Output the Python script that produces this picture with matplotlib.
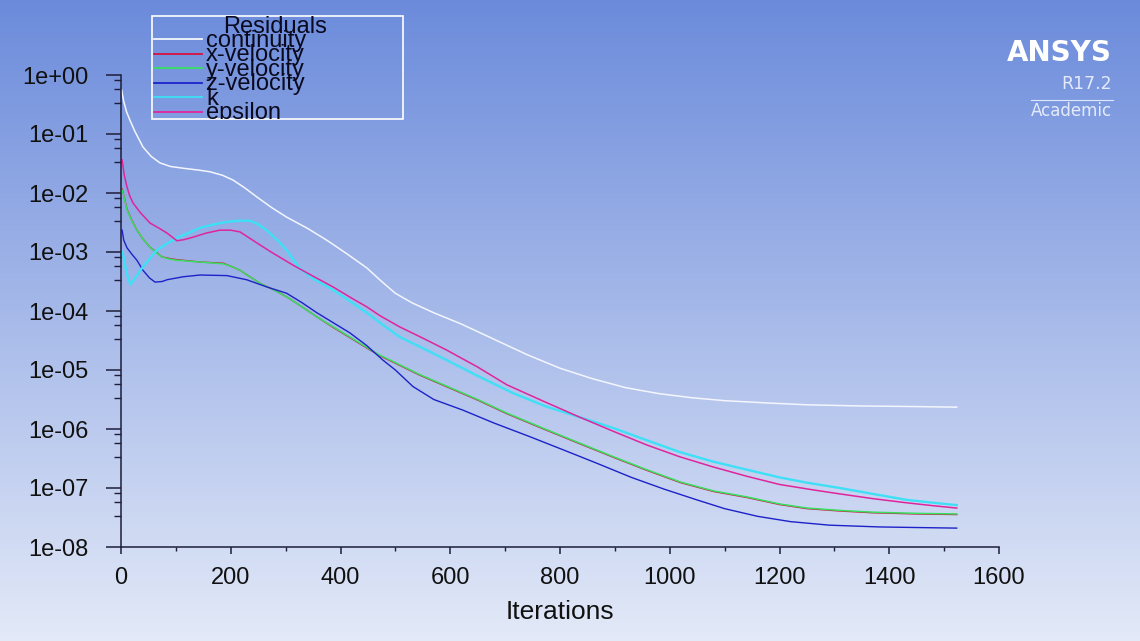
import numpy as np
import matplotlib
matplotlib.use("Agg")
from matplotlib import pyplot as plt
from matplotlib.patches import Rectangle
from matplotlib.ticker import LogLocator, NullFormatter

# residual histories (log10 of the residual)
series_names = ["continuity", "x-velocity", "y-velocity", "z-velocity", "k", "epsilon"]
series_colors = ["#f4f6ff", "#d8123e", "#36e060", "#1c22c8", "#3ee0f6", "#e0259c"]
series_widths = [1.1, 1.0, 1.1, 1.0, 1.7, 1.1]

continuity_it = [1, 5, 10, 16, 25, 40, 55, 71, 90, 113, 140, 162, 185, 204, 225, 248, 275,
                 302, 340, 375, 410, 448, 475, 500, 530, 570, 620, 680, 740, 800, 860, 920,
                 980, 1040, 1100, 1180, 1250, 1350, 1450, 1523]
continuity_exp = [-0.25, -0.45, -0.62, -0.76, -0.95, -1.22, -1.38, -1.49, -1.55, -1.58, -1.61,
                  -1.64, -1.70, -1.78, -1.91, -2.07, -2.25, -2.41, -2.60, -2.80, -3.02, -3.27,
                  -3.50, -3.70, -3.86, -4.03, -4.22, -4.48, -4.74, -4.97, -5.15, -5.30, -5.40,
                  -5.47, -5.52, -5.56, -5.59, -5.61, -5.62, -5.63]

yvel_it = [2, 5, 11, 20, 29, 40, 53, 64, 74, 88, 102, 144, 186, 200, 217, 235, 253, 280, 302,
           330, 357, 387, 417, 450, 472, 490, 545, 600, 650, 703, 770, 836, 900, 958, 1020,
           1080, 1140, 1200, 1250, 1310, 1370, 1450, 1523]
yvel_exp = [-1.95, -2.05, -2.29, -2.48, -2.63, -2.78, -2.92, -3.01, -3.08, -3.12, -3.14, -3.17,
            -3.20, -3.24, -3.31, -3.42, -3.53, -3.65, -3.76, -3.93, -4.10, -4.27, -4.44, -4.63,
            -4.75, -4.83, -5.08, -5.30, -5.50, -5.73, -5.99, -6.24, -6.48, -6.69, -6.90, -7.05,
            -7.15, -7.27, -7.34, -7.38, -7.41, -7.43, -7.44]
xvel_exp = [-1.93, -2.04, -2.28, -2.47, -2.63, -2.78, -2.92, -3.00, -3.08, -3.11, -3.13, -3.17,
            -3.19, -3.24, -3.31, -3.42, -3.53, -3.65, -3.76, -3.93, -4.10, -4.28, -4.45, -4.64,
            -4.76, -4.84, -5.09, -5.31, -5.51, -5.74, -6.00, -6.25, -6.49, -6.70, -6.91, -7.06,
            -7.16, -7.28, -7.35, -7.39, -7.42, -7.44, -7.45]

zvel_it = [2, 5, 11, 20, 29, 40, 52, 62, 75, 84, 113, 144, 193, 229, 265, 302, 330, 357, 387,
           417, 447, 477, 500, 532, 570, 623, 680, 745, 805, 867, 930, 990, 1049, 1100, 1160,
           1220, 1291, 1382, 1450, 1523]
zvel_exp = [-2.63, -2.80, -2.93, -3.04, -3.14, -3.31, -3.44, -3.51, -3.50, -3.47, -3.42, -3.39,
            -3.40, -3.47, -3.59, -3.70, -3.86, -4.03, -4.20, -4.37, -4.58, -4.83, -5.00, -5.28,
            -5.50, -5.68, -5.90, -6.13, -6.35, -6.58, -6.82, -7.02, -7.20, -7.35, -7.48, -7.57,
            -7.63, -7.66, -7.67, -7.68]

k_it = [2, 5, 10, 17, 25, 40, 65, 85, 102, 125, 144, 170, 193, 215, 235, 250, 265, 285, 302,
        326, 350, 386, 420, 448, 472, 508, 550, 593, 650, 714, 775, 836, 896, 958, 1018, 1078,
        1127, 1200, 1250, 1310, 1370, 1431, 1480, 1523]
k_exp = [-3.00, -3.10, -3.35, -3.55, -3.45, -3.25, -2.97, -2.85, -2.76, -2.67, -2.59, -2.53,
         -2.49, -2.47, -2.47, -2.53, -2.63, -2.80, -2.97, -3.28, -3.45, -3.64, -3.85, -4.03,
         -4.20, -4.44, -4.63, -4.83, -5.10, -5.39, -5.62, -5.80, -5.98, -6.19, -6.39, -6.55,
         -6.66, -6.82, -6.91, -7.00, -7.10, -7.20, -7.25, -7.29]

eps_it = [2, 6, 11, 16, 22, 35, 53, 70, 84, 102, 115, 131, 155, 180, 200, 217, 240, 260, 277,
          313, 350, 386, 420, 448, 472, 508, 550, 593, 650, 703, 770, 836, 900, 958, 1018, 1078,
          1140, 1200, 1260, 1310, 1370, 1431, 1480, 1523]
eps_exp = [-1.44, -1.70, -1.90, -2.05, -2.17, -2.33, -2.51, -2.60, -2.68, -2.81, -2.79, -2.75,
           -2.68, -2.63, -2.63, -2.66, -2.80, -2.92, -3.02, -3.22, -3.41, -3.59, -3.78, -3.93,
           -4.08, -4.27, -4.46, -4.66, -4.95, -5.25, -5.53, -5.80, -6.05, -6.27, -6.47, -6.64,
           -6.80, -6.94, -7.03, -7.10, -7.18, -7.25, -7.30, -7.34]

xtick_vals = [0, 200, 400, 600, 800, 1000, 1200, 1400, 1600]
ytick_vals = [1e-8, 1e-7, 1e-6, 1e-5, 1e-4, 1e-3, 1e-2, 1e-1, 1e0]
ytick_labels = ["1e-08", "1e-07", "1e-06", "1e-05", "1e-04", "1e-03", "1e-02", "1e-01", "1e+00"]

W, H = 1140, 641
fig = plt.figure(figsize=(W / 100, H / 100), dpi=100)

# background gradient
bg = fig.add_axes([0, 0, 1, 1], zorder=-10)
top = np.array([0.42, 0.545, 0.86])
bot = np.array([0.89, 0.915, 0.97])
t = np.linspace(0, 1, 256)[:, None, None]
grad = top * (1 - t) + bot * t
grad = np.repeat(grad, 4, axis=1)
bg.imshow(grad, aspect="auto", extent=[0, 1, 0, 1])
bg.axis("off")

# main plot
ax = fig.add_axes([121 / W, 1 - 547 / H, (999 - 121) / W, (547 - 75) / H])
ax.set_facecolor("none")
ax.set_yscale("log")

its = [continuity_it, yvel_it, yvel_it, zvel_it, k_it, eps_it]
exps = [continuity_exp, xvel_exp, yvel_exp, zvel_exp, k_exp, eps_exp]
order = [0, 1, 2, 3, 4, 5]
for i in order:
    ax.plot(its[i], 10.0 ** np.array(exps[i]), color=series_colors[i], lw=series_widths[i],
            solid_joinstyle="round")

ax.set_xlim(0, 1600)
ax.set_ylim(1e-8, 1)
for s in ["top", "right"]:
    ax.spines[s].set_visible(False)
for s in ["left", "bottom"]:
    ax.spines[s].set_color("#1e1e3a")
    ax.spines[s].set_linewidth(1.1)

tick_font = {"family": ["Liberation Sans", "DejaVu Sans"], "size": 17}
ax.set_xticks(xtick_vals)
ax.set_xticklabels([str(v) for v in xtick_vals], fontdict=tick_font)
ax.set_xticks(np.arange(100, 1600, 200), minor=True)
ax.set_yticks(ytick_vals)
ax.set_yticklabels(ytick_labels, fontdict=tick_font)
ax.yaxis.set_minor_locator(LogLocator(base=10, subs=[3.3, 5.7, 8.1]))
ax.yaxis.set_minor_formatter(NullFormatter())
ax.tick_params(axis="y", which="major", length=10.5, width=1.1, color="#1e1e3a", pad=13,
               labelcolor="#111111")
ax.tick_params(axis="y", which="minor", length=5.2, width=1.0, color="#1e1e3a")
ax.tick_params(axis="x", which="major", length=5, width=1.1, color="#1e1e3a", pad=9.5,
               labelcolor="#111111")
ax.tick_params(axis="x", which="minor", length=3, width=1.0, color="#1e1e3a")
ax.set_xlabel("Iterations", family=["Liberation Sans", "DejaVu Sans"], fontsize=19,
              color="#111111", labelpad=8)

# overlay in pixel units for the legend box and the logo
ov = fig.add_axes([0, 0, 1, 1], zorder=5)
ov.set_xlim(0, W)
ov.set_ylim(H, 0)
ov.axis("off")

box = Rectangle((152, 16), 251, 103, fill=False, edgecolor="white", lw=1.2)
ov.add_patch(box)
leg_font = ["Liberation Sans", "DejaVu Sans"]
ov.text(223, 33, "Residuals", family=leg_font, fontsize=17, color="#0a0a1e", va="baseline")
for i, name in enumerate(series_names):
    yy = 39 + 14.6 * i
    ov.plot([154, 202], [yy, yy], color=series_colors[i], lw=1.3)
    txt = ov.text(206, yy + 7.5, name, family=leg_font, fontsize=17, color="#0a0a1e",
                  va="baseline", clip_on=True)
    txt.set_clip_path(box)

ov.text(1112, 53, "ANSYS", family="DejaVu Sans", weight="bold", fontsize=20, color="white",
        ha="right", va="center")
ov.text(1112, 84, "R17.2", family="DejaVu Sans", fontsize=12.5, color="#e4ebfb",
        ha="right", va="center")
ov.plot([1031, 1113], [100, 100], color="#dfe7fb", lw=0.8)
ov.text(1112, 111, "Academic", family="DejaVu Sans", fontsize=12, color="#e4ebfb",
        ha="right", va="center")

fig.savefig("out.png", dpi=100)
